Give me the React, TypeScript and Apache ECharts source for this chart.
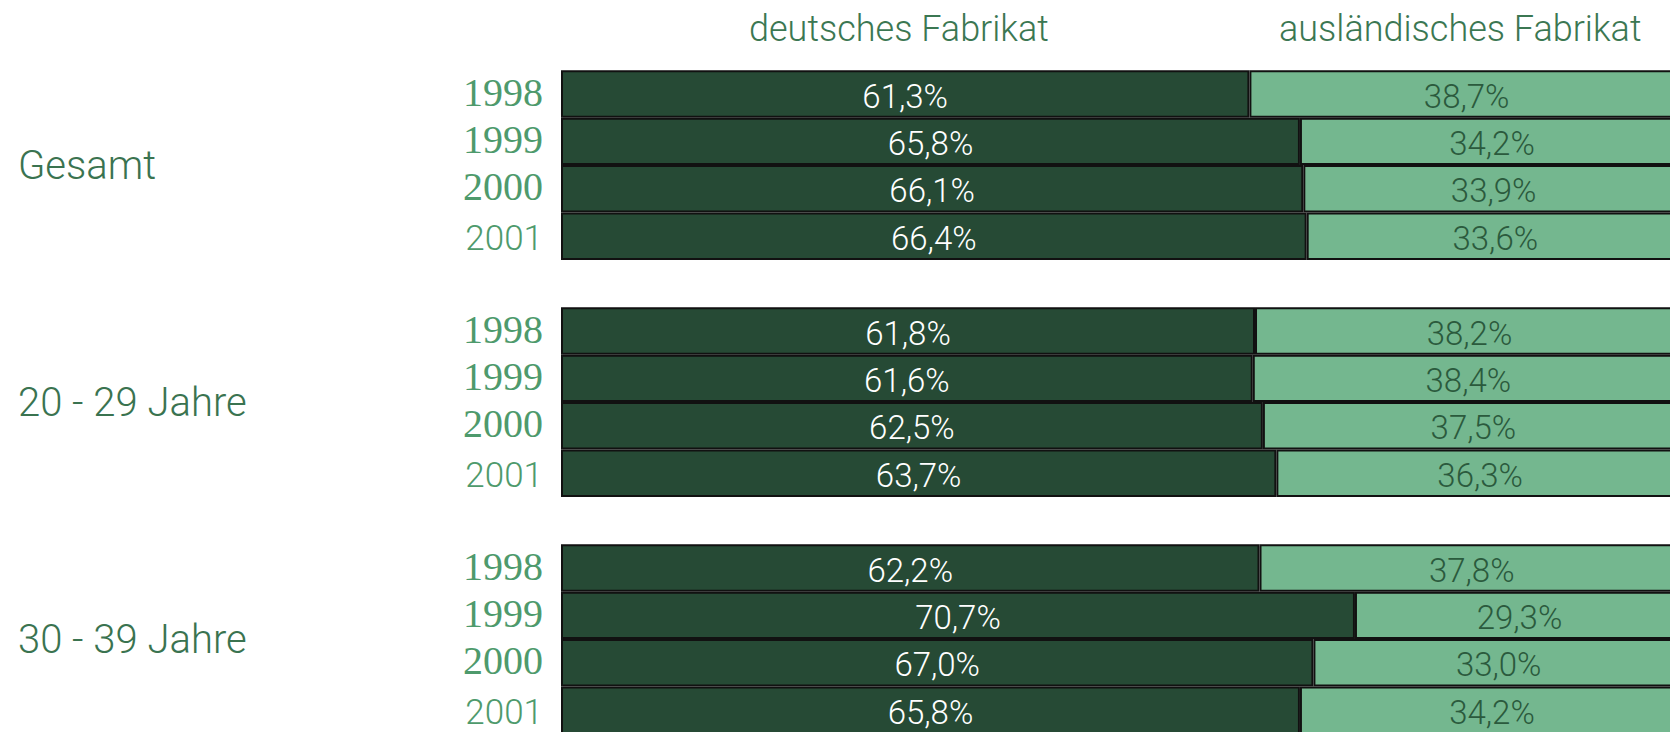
import React, { useEffect, useRef } from "react";
import * as echarts from "echarts";

const rowLabels = ["1998", "1999", "2000", "2001", "", "1998", "1999", "2000", "2001", "", "1998", "1999", "2000", "2001"];
const groupLabels = ["Gesamt", "20 - 29 Jahre", "30 - 39 Jahre"];
const groupTickIndex = [2, 7, 12];
const seriesNames = ["deutsches Fabrikat", "ausländisches Fabrikat"];
const germanValues = [61.3, 65.8, 66.1, 66.4, null, 61.8, 61.6, 62.5, 63.7, null, 62.2, 70.7, 67.0, 65.8];
const foreignValues = [38.7, 34.2, 33.9, 33.6, null, 38.2, 38.4, 37.5, 36.3, null, 37.8, 29.3, 33.0, 34.2];

const fmt = (v: number) => v.toFixed(1).replace(".", ",") + "%";

export default function App() {
  const ref = useRef<HTMLDivElement>(null);
  useEffect(() => {
    if (!ref.current) return;
    const chart = echarts.init(ref.current, null, { renderer: "svg" });
    const gridLeft = 561;
    const gridTop = 70.3;
    const gridWidth = 1123;
    const gridHeight = 663.6;
    chart.setOption({
      animation: false,
      backgroundColor: "#ffffff",
      grid: { left: gridLeft, top: gridTop, width: gridWidth, height: gridHeight, containLabel: false },
      xAxis: { type: "value", min: 0, max: 100, show: false },
      yAxis: [
        {
          type: "category",
          data: rowLabels,
          inverse: true,
          axisLine: { show: false },
          axisTick: { show: false },
          splitLine: { show: false },
          axisLabel: {
            interval: 0,
            margin: 18,
            formatter: (v: string) => (v === "2001" ? `{n|${v}}` : v ? `{s|${v}}` : ""),
            rich: {
              s: { fontFamily: "Liberation Serif", fontSize: 40, color: "#4e9a6c", padding: [0, 0, 4, 0] },
              n: { fontFamily: "Roboto", fontWeight: 300, fontSize: 35, color: "#4e9a6c", padding: [4, 0, 0, 0] },
            },
          },
        },
        {
          type: "value",
          min: 0,
          max: 14,
          interval: 1,
          inverse: true,
          position: "left",
          axisLine: { show: false },
          axisTick: { show: false },
          splitLine: { show: false },
          axisLabel: {
            margin: gridLeft - 18,
            align: "left",
            verticalAlign: "middle",
            fontFamily: "Roboto",
            fontWeight: 300,
            fontSize: 40,
            color: "#3a7350",
            padding: [10, 0, 0, 0],
            formatter: (v: number) => {
              const i = groupTickIndex.indexOf(Math.round(v));
              return i >= 0 ? groupLabels[i] : "";
            },
          },
        },
      ],
      graphic: [
        {
          type: "text",
          left: 749,
          top: 11,
          style: { text: seriesNames[0], fontFamily: "Roboto", fontWeight: 300, fontSize: 36, fill: "#3b7752" },
        },
        {
          type: "text",
          left: 1279,
          top: 11,
          style: { text: seriesNames[1], fontFamily: "Roboto", fontWeight: 300, fontSize: 36, fill: "#3b7752" },
        },
      ],
      series: [
        {
          name: seriesNames[0],
          type: "bar",
          stack: "total",
          yAxisIndex: 0,
          barCategoryGap: 0,
          data: germanValues,
          itemStyle: { color: "#264a35", borderColor: "#111111", borderWidth: 2 },
          label: {
            show: true,
            position: "inside",
            offset: [0, 2],
            color: "#ffffff",
            fontFamily: "Roboto",
            fontWeight: 300,
            fontSize: 33,
            formatter: (p: any) => fmt(p.value),
          },
        },
        {
          name: seriesNames[1],
          type: "bar",
          stack: "total",
          yAxisIndex: 0,
          barCategoryGap: 0,
          data: foreignValues,
          itemStyle: { color: "#74b78f", borderColor: "#111111", borderWidth: 2 },
          label: {
            show: true,
            position: "inside",
            offset: [0, 2],
            color: "#2b5a3d",
            fontFamily: "Roboto",
            fontWeight: 300,
            fontSize: 33,
            formatter: (p: any) => fmt(p.value),
          },
        },
      ],
    });
    return () => chart.dispose();
  }, []);
  return (
    <div style={{ position: "fixed", left: 0, top: 0, width: 1670, height: 732, overflow: "hidden", background: "#fff" }}>
      <div ref={ref} style={{ width: 1700, height: 740 }} />
    </div>
  );
}
